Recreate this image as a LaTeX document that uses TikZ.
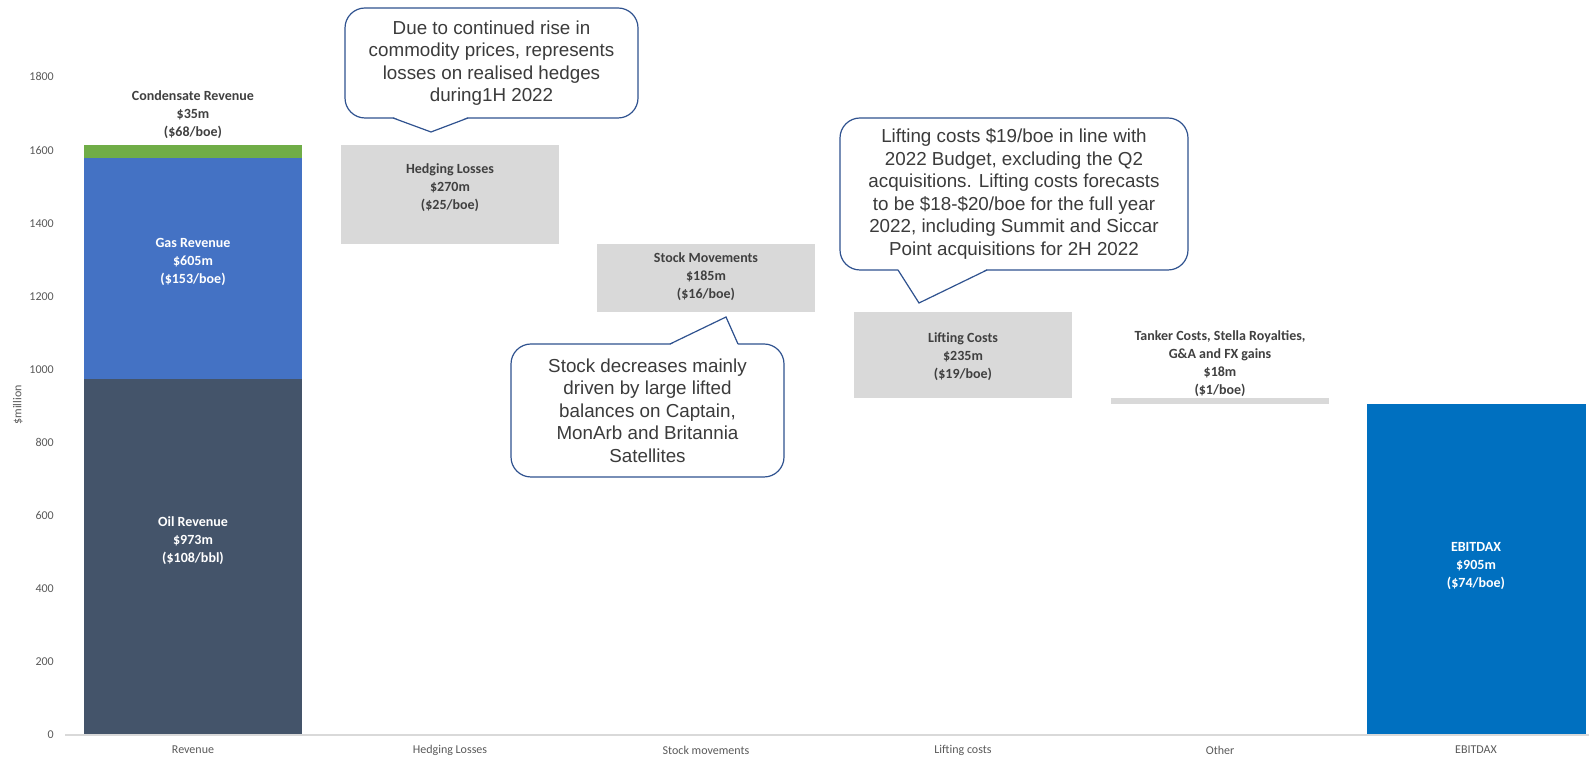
\documentclass[tikz,border=0pt]{standalone}
\usepackage{fontspec}
\setmainfont{Liberation Sans}
\newfontfamily\calibri{Carlito}
\definecolor{oilc}{HTML}{44546A}
\definecolor{gasc}{HTML}{4472C4}
\definecolor{condc}{HTML}{70AD47}
\definecolor{boxgray}{HTML}{D9D9D9}
\definecolor{ebitc}{HTML}{0070C0}
\definecolor{labelgray}{HTML}{404040}
\definecolor{tickgray}{HTML}{595959}
\definecolor{axisgray}{HTML}{D9D9D9}
\definecolor{noteblue}{HTML}{2F528F}
\definecolor{notegray}{HTML}{3B3B3B}
\begin{document}
\begin{tikzpicture}[x=1pt,y=1pt]
		\tikzstyle{every node}=[inner sep=0pt]
		\tikzstyle{barlabel}=[font=\calibri\bfseries\fontsize{14}{18}\selectfont,align=center,text=white]
		\tikzstyle{boxlabel}=[barlabel,text=labelgray]
		\tikzstyle{ticklabel}=[font=\calibri\fontsize{12}{14}\selectfont,text=tickgray]
		\tikzstyle{notebox}=[draw=noteblue,line width=1.2pt,fill=white,rounded corners=20pt,outer sep=0pt,align=center,text=notegray,font=\fontsize{18.8}{22.5}\selectfont]
		\tikzstyle{notetip}=[draw=noteblue,line width=1.2pt,line join=miter]
		\useasboundingbox (0,0) rectangle (1589,757);
		% waterfall, y in $m
		\begin{scope}[shift={(0,22)},y=0.3656pt]
			\fill[oilc] (84,0) rectangle (302,973);
			\fill[gasc] (84,973) rectangle (302,1578);
			\fill[condc] (84,1578) rectangle (302,1613);
			\fill[boxgray] (341,1343) rectangle (559,1613);
			\fill[boxgray] (597,1158) rectangle (815,1343);
			\fill[boxgray] (854,923) rectangle (1072,1158);
			\fill[boxgray] (1111,905) rectangle (1329,923);
			\fill[ebitc] (1367,0) rectangle (1586,905);
			\draw[axisgray,line width=1.5pt] (65,0) -- (1589,0);
			\foreach \v in {0,200,...,1800}
				\node[ticklabel,anchor=east] (tick\v) at (54,\v) {\v};
			\node[barlabel] (oil) at (193,531) {Oil Revenue\\\$973m\\(\$108/bbl)};
			\node[barlabel] (gas) at (193,1294) {Gas Revenue\\\$605m\\(\$153/boe)};
			\node[boxlabel] (cond) at (193,1696) {Condensate Revenue\\\$35m\\(\$68/boe)};
			\node[boxlabel] (hedge) at (450,1496) {Hedging Losses\\\$270m\\(\$25/boe)};
			\node[boxlabel] (stock) at (706,1253) {Stock Movements\\\$185m\\(\$16/boe)};
			\node[boxlabel] (lift) at (963,1034) {Lifting Costs\\\$235m\\(\$19/boe)};
			\node[boxlabel] (other) at (1220,1017) {Tanker Costs, Stella Royalties,\\G\&A and FX gains\\\$18m\\(\$1/boe)};
			\node[barlabel] (ebit) at (1476,462) {EBITDAX\\\$905m\\(\$74/boe)};
		\end{scope}
		\foreach \cx/\cat [count=\i] in {193/Revenue,450/Hedging Losses,706/Stock movements,963/Lifting costs,1220/Other,1476/EBITDAX}
			\node[ticklabel] (cat\i) at (\cx,7) {\cat};
		\node[ticklabel,rotate=90] (ytitle) at (18,352) {\$million};
		% callouts
		\node[notebox,minimum width=293pt,minimum height=110pt] (note1) at (491.5,694) {Due to continued rise in\\commodity prices, represents\\losses on realised hedges\\during1H 2022};
		\coordinate (tip1) at (431,625);
		\fill[white] ([xshift=48pt,yshift=1pt]note1.south west) -- (tip1) -- ([xshift=123pt,yshift=1pt]note1.south west) -- cycle;
		\draw[notetip] ([xshift=48pt]note1.south west) -- (tip1) -- ([xshift=123pt]note1.south west);
		\node[notebox,minimum width=273pt,minimum height=133pt] (note2) at (647.5,346.5) {Stock decreases mainly\\driven by large lifted\\balances on Captain,\\MonArb and Britannia\\Satellites};
		\coordinate (tip2) at (726,440);
		\fill[white] ([xshift=159pt,yshift=-1pt]note2.north west) -- (tip2) -- ([xshift=227pt,yshift=-1pt]note2.north west) -- cycle;
		\draw[notetip] ([xshift=159pt]note2.north west) -- (tip2) -- ([xshift=227pt]note2.north west);
		\node[notebox,minimum width=348pt,minimum height=152pt] (note3) at (1014,563) {Lifting costs \$19/boe in line with\\2022 Budget, excluding the Q2\\acquisitions. Lifting costs forecasts\\to be \$18-\$20/boe for the full year\\2022, including Summit and Siccar\\Point acquisitions for 2H 2022};
		\coordinate (tip3) at (919,454);
		\fill[white] ([xshift=58pt,yshift=1pt]note3.south west) -- (tip3) -- ([xshift=147pt,yshift=1pt]note3.south west) -- cycle;
		\draw[notetip] ([xshift=58pt]note3.south west) -- (tip3) -- ([xshift=147pt]note3.south west);
	\end{tikzpicture}
\end{document}
